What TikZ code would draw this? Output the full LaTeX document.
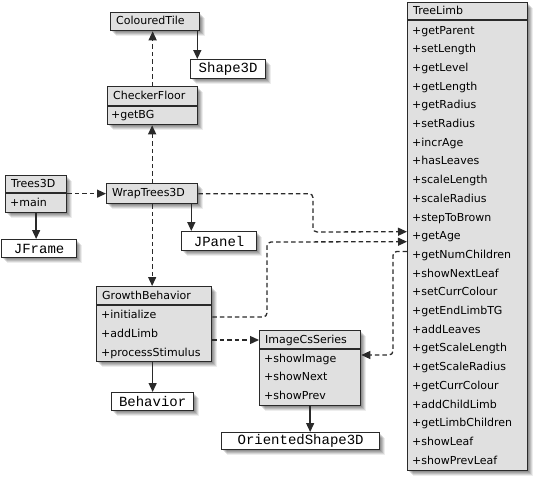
\documentclass[tikz,border=0pt]{standalone}
\usepackage{fontspec}
\setmainfont{DejaVu Sans}
\newfontfamily\monof{Liberation Mono}
\usetikzlibrary{arrows.meta,shadows,calc}
\definecolor{boxfill}{HTML}{E0E0E0}
\definecolor{ink}{HTML}{2A2A2A}
\tikzset{
 shd/.style={
   general shadow={shadow xshift=1.5pt,shadow yshift=-1.5pt,opacity=0.12,fill=black},
   general shadow={shadow xshift=2.5pt,shadow yshift=-2.5pt,opacity=0.12,fill=black},
   general shadow={shadow xshift=3.5pt,shadow yshift=-3.5pt,opacity=0.12,fill=black},
   general shadow={shadow xshift=4.5pt,shadow yshift=-4.5pt,opacity=0.10,fill=black},
   general shadow={shadow xshift=5.5pt,shadow yshift=-5.5pt,opacity=0.07,fill=black}},
 classbox/.style={draw=ink, line width=1.3pt, fill=boxfill, shd, anchor=north west, inner sep=0},
 plainbox/.style={draw=ink, line width=1.3pt, fill=white, shd, anchor=north west, inner sep=0, font=\monof\fontsize{14}{14}\selectfont, text=black},
 lbl/.style={anchor=west, inner sep=0, font=\fontsize{11}{13}\selectfont, text=black, text height=8pt, text depth=2pt},
 divider/.style={draw=ink, line width=1.3pt},
 dep/.style={draw=ink, line width=1.3pt, dash pattern=on 4.5pt off 3pt, -{Triangle[length=9pt,width=8pt]}, rounded corners=4pt},
 assoc/.style={draw=ink, line width=1.4pt, -{Triangle[length=9pt,width=8pt]}},
}
\begin{document}
\begin{tikzpicture}[x=1pt,y=-1pt]
\useasboundingbox (0,0) rectangle (542,485);

% ColouredTile
\node[classbox, minimum width=89pt, minimum height=18pt] (ColouredTile) at (110,12) {};
\node[lbl] (ColouredTile-h) at (116,21) {ColouredTile};
% Shape3D
\node[plainbox, minimum width=75pt, minimum height=19pt] (Shape3D) at (190,59) {Shape3D};
% CheckerFloor
\node[classbox, minimum width=90pt, minimum height=38pt] (CheckerFloor) at (107,86) {};
\draw[divider] (CheckerFloor.west |- 0,106) -- (CheckerFloor.east |- 0,106);
\node[lbl] (CheckerFloor-h) at (113,96) {CheckerFloor};
\node[lbl] (CheckerFloor-r1) at (111,115) {+getBG};
% Trees3D
\node[classbox, minimum width=61pt, minimum height=37pt] (Trees3D) at (5,175) {};
\draw[divider] (Trees3D.west |- 0,193) -- (Trees3D.east |- 0,193);
\node[lbl] (Trees3D-h) at (11,184) {Trees3D};
\node[lbl] (Trees3D-r1) at (10,203) {+main};
% WrapTrees3D
\node[classbox, minimum width=91pt, minimum height=20pt] (WrapTrees3D) at (106,183) {};
\node[lbl] (WrapTrees3D-h) at (112,193) {WrapTrees3D};
% JFrame, JPanel
\node[plainbox, minimum width=75pt, minimum height=18pt] (JFrame) at (1,239) {JFrame};
\node[plainbox, minimum width=75pt, minimum height=19pt] (JPanel) at (181,231) {JPanel};
% GrowthBehavior
\node[classbox, minimum width=115pt, minimum height=75pt] (GrowthBehavior) at (96,286) {};
\draw[divider] (GrowthBehavior.west |- 0,305) -- (GrowthBehavior.east |- 0,305);
\node[lbl] (GrowthBehavior-h) at (102,296) {GrowthBehavior};
\node[lbl] (GrowthBehavior-r1) at (101,315) {+initialize};
\node[lbl] (GrowthBehavior-r2) at (101,334) {+addLimb};
\node[lbl] (GrowthBehavior-r3) at (101,353) {+processStimulus};
% Behavior
\node[plainbox, minimum width=82pt, minimum height=18pt] (Behavior) at (111,392) {Behavior};
% ImageCsSeries
\node[classbox, minimum width=101pt, minimum height=75pt] (ImageCsSeries) at (259,330) {};
\draw[divider] (ImageCsSeries.west |- 0,349) -- (ImageCsSeries.east |- 0,349);
\node[lbl] (ImageCsSeries-h) at (265,340) {ImageCsSeries};
\node[lbl] (ImageCsSeries-r1) at (264,359) {+showImage};
\node[lbl] (ImageCsSeries-r2) at (264,377.5) {+showNext};
\node[lbl] (ImageCsSeries-r3) at (264,396) {+showPrev};
% OrientedShape3D
\node[plainbox, minimum width=158pt, minimum height=17pt] (OrientedShape3D) at (221,432) {OrientedShape3D};
% TreeLimb
\node[classbox, minimum width=120pt, minimum height=468pt] (TreeLimb) at (407,2) {};
\draw[divider] (TreeLimb.west |- 0,20) -- (TreeLimb.east |- 0,20);
\node[lbl] (TreeLimb-h) at (413,11) {TreeLimb};
\foreach \m [count=\i] in {getParent,setLength,getLevel,getLength,getRadius,setRadius,incrAge,hasLeaves,scaleLength,scaleRadius,stepToBrown,getAge,getNumChildren,showNextLeaf,setCurrColour,getEndLimbTG,addLeaves,getScaleLength,getScaleRadius,getCurrColour,addChildLimb,getLimbChildren,showLeaf,showPrevLeaf}
  \node[lbl] (TreeLimb-r\i) at (412,{31+18.7*(\i-1)}) {+\m};

% solid associations
\draw[assoc] ([xshift=-3pt]ColouredTile.south east) -- ([xshift=-3pt]ColouredTile.south east |- Shape3D.north);
\draw[assoc] (Trees3D.south) -- (Trees3D.south |- JFrame.north);
\draw[assoc] ([xshift=-7pt]WrapTrees3D.south east) -- ([xshift=-7pt]WrapTrees3D.south east |- JPanel.north);
\draw[assoc] (GrowthBehavior.south -| Behavior.north) -- (Behavior.north);
\draw[assoc] (ImageCsSeries.south) -- (ImageCsSeries.south |- OrientedShape3D.north);

% dependencies
\draw[dep] (CheckerFloor.north) -- (CheckerFloor.north |- ColouredTile.south);
\draw[dep] (WrapTrees3D.west -| Trees3D.east) -- (WrapTrees3D.west);
\draw[dep] (WrapTrees3D.north) -- (WrapTrees3D.north |- CheckerFloor.south);
\draw[dep] (WrapTrees3D.south) -- (WrapTrees3D.south |- GrowthBehavior.north);
\draw[dep] (GrowthBehavior.east |- ImageCsSeries-h) -- (ImageCsSeries.west |- ImageCsSeries-h);
\draw[dep] (WrapTrees3D.east) -| (313,232) -- ($(TreeLimb.west |- TreeLimb-r12)+(0,-5)$);
\draw[dep] ($(GrowthBehavior.east |- GrowthBehavior-r1)+(0,2)$) -| (267,242) -- ($(TreeLimb.west |- TreeLimb-r12)+(0,5)$);
\draw[dep] ($(TreeLimb.west |- TreeLimb-r13)+(0,-4)$) -| (393,355) -- ($(ImageCsSeries.east |- ImageCsSeries-r1)+(0,-4)$);
\end{tikzpicture}
\end{document}
